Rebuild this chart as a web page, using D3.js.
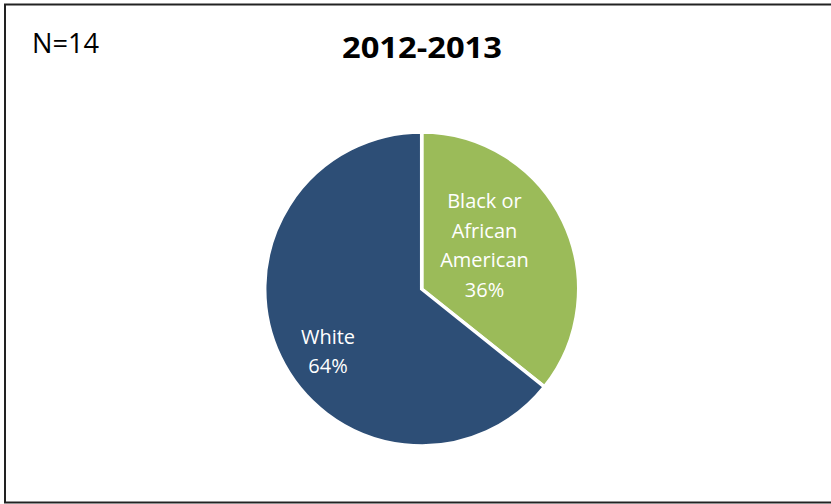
<!DOCTYPE html>
<html><head><meta charset="utf-8">
<script src="https://cdn.jsdelivr.net/npm/d3@7"></script>
<style>body{margin:0;background:#fff}svg{display:block}</style>
</head><body>
<svg id="c" width="831" height="504"></svg>
<script>
const categories = ["Black or African American", "White"];
const labelLines = [["Black or", "African", "American"], ["White"]];
const counts = [5, 9];
const percents = ["36%", "64%"];
const colors = ["#9BBB59", "#2D4E76"];
const title = "2012-2013";
const nLabel = "N=14";

const svg = d3.select("#c");
svg.append("rect").attr("x", 5).attr("y", 4.5).attr("width", 840).attr("height", 498)
  .attr("fill", "#fff").attr("stroke", "#222").attr("stroke-width", 2);

svg.append("text").attr("x", 32).attr("y", 53).text(nLabel)
  .attr("font-family", "Open Sans").attr("font-size", 28).attr("fill", "#000")
  .attr("textLength", 67).attr("lengthAdjust", "spacingAndGlyphs");

svg.append("text").attr("x", 422).attr("y", 58).attr("text-anchor", "middle").text(title)
  .attr("font-family", "Open Sans").attr("font-weight", 700).attr("font-size", 28).attr("fill", "#000")
  .attr("textLength", 160).attr("lengthAdjust", "spacingAndGlyphs");

const cx = 421.7, cy = 289, r = 157;
const pie = d3.pie().sort(null).value(d => d)(counts);
const arc = d3.arc().innerRadius(0).outerRadius(r);
const g = svg.append("g").attr("transform", `translate(${cx},${cy})`);
g.selectAll("path").data(pie).join("path")
  .attr("d", arc).attr("fill", (d, i) => colors[i])
  .attr("stroke", "#fff").attr("stroke-width", 3.5).attr("stroke-linejoin", "miter");

const labelPos = [[484.5, 208], [328, 343.5]];
const lh = 29.7;
pie.forEach((d, i) => {
  const lines = labelLines[i].concat([percents[i]]);
  const t = svg.append("text").attr("text-anchor", "middle")
    .attr("font-family", "Open Sans").attr("font-size", 20).attr("fill", "#fff");
  lines.forEach((ln, j) => {
    t.append("tspan").attr("x", labelPos[i][0]).attr("y", labelPos[i][1] + j * lh).text(ln);
  });
});
</script>
</body></html>
